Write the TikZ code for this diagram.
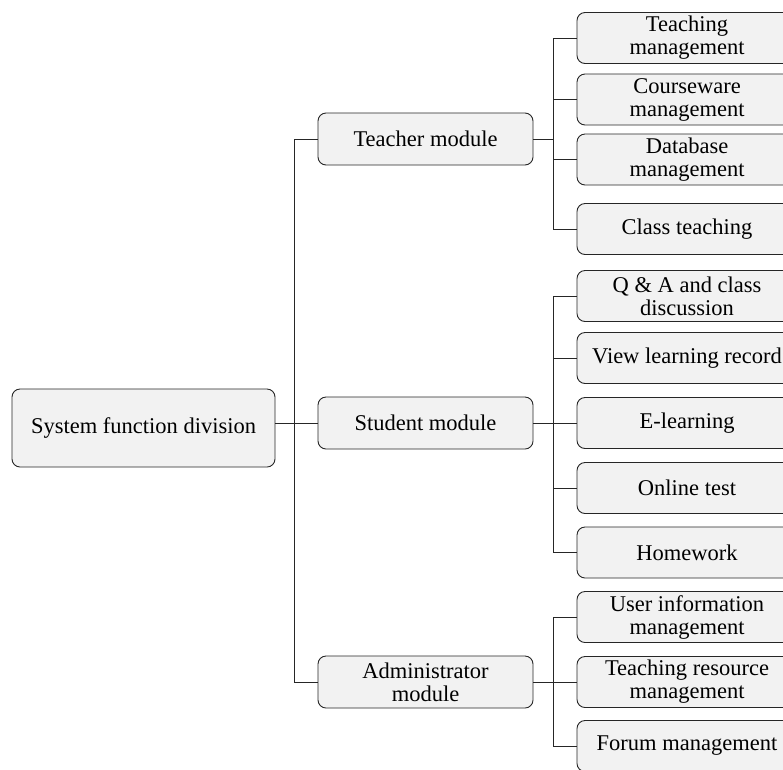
\documentclass[tikz,border=0pt]{standalone}
\usepackage{fontspec}
\setmainfont{Liberation Serif}
\begin{document}
\begin{tikzpicture}[x=1pt,y=-1pt,
  box/.style={draw=black!85, fill=black!5, line width=0.9pt, rounded corners=8pt,
    align=center, inner sep=0pt, font=\fontsize{22.5pt}{23pt}\selectfont},
  rootbox/.style={box, minimum width=263pt, minimum height=78pt},
  modbox/.style={box, minimum width=215pt, minimum height=52pt},
  leafbox/.style={box, minimum width=220pt, minimum height=51pt},
  link/.style={draw=black!85, line width=0.9pt}]
\useasboundingbox (0,0) rectangle (783,769);
\clip (0,0) rectangle (783,769);
\fill[white] (0,0) rectangle (783,769);

\node[rootbox] (root) at (143.5,428) {System function division};
\node[modbox] (teacher) at (425.5,139) {Teacher module};
\node[modbox] (student) at (425.5,423) {Student module};
\node[modbox] (admin) at (425.5,682) {Administrator\\module};

\node[leafbox] (t1) at (687,38) {Teaching\\management};
\node[leafbox] (t2) at (687,99.5) {Courseware\\management};
\node[leafbox] (t3) at (687,159.5) {Database\\management};
\node[leafbox] (t4) at (687,229) {Class teaching};

\node[leafbox] (s1) at (687,296) {Q \& A and class\\discussion};
\node[leafbox] (s2) at (687,358) {View learning record};
\node[leafbox] (s3) at (687,423) {E-learning};
\node[leafbox] (s4) at (687,488) {Online test};
\node[leafbox] (s5) at (687,552.5) {Homework};

\node[leafbox] (a1) at (687,617) {User information\\management};
\node[leafbox] (a2) at (687,682) {Teaching resource\\management};
\node[leafbox] (a3) at (687,746) {Forum management};

% trunk
\path[link] (root.east |- student.west) -- (student.west);
\path[link] (teacher.west) -- ++(-23,0) coordinate (tk1) |- (admin.west);

% teacher branch
\path[link] (teacher.east) -- ++(21,0) coordinate (bt);
\path[link] (t1.west) -- ++(-23,0) |- (t4.west);
\path[link] (t2.west) -- ++(-23,0);
\path[link] (t3.west) -- ++(-23,0);

% student branch
\path[link] (student.east) -- (s3.west);
\path[link] (s1.west) -- ++(-23,0) |- (s5.west);
\path[link] (s2.west) -- ++(-23,0);
\path[link] (s4.west) -- ++(-23,0);

% admin branch
\path[link] (admin.east) -- (a2.west);
\path[link] (a1.west) -- ++(-23,0) |- (a3.west);
\end{tikzpicture}
\end{document}
